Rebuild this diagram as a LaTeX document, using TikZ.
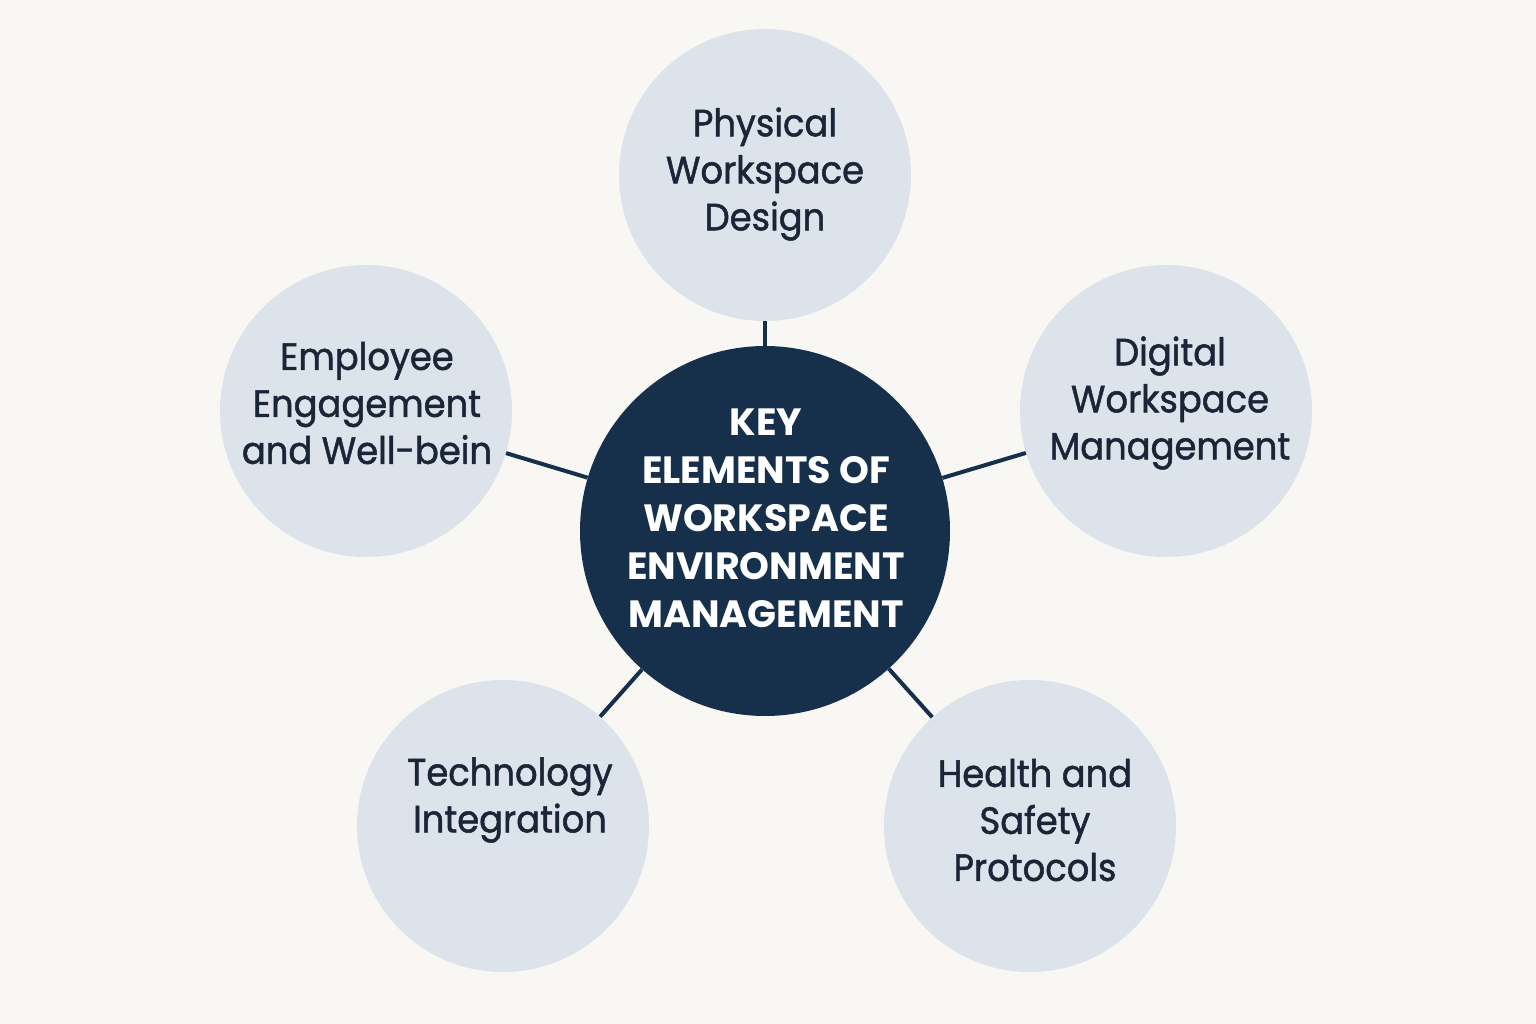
\documentclass[tikz,border=0pt]{standalone}
\usepackage{fontspec}
\setmainfont{Poppins}
\newfontfamily\petalfont[FakeStretch=0.93,FakeBold=1.3]{Poppins}
\definecolor{bgc}{HTML}{F8F7F3}
\definecolor{navy}{HTML}{16304C}
\definecolor{pale}{HTML}{DDE3EA}
\definecolor{ink}{HTML}{1A2638}
\begin{document}
\begin{tikzpicture}[x=0.75pt,y=-0.75pt,
  hub/.style={circle,fill=navy,minimum size=370*0.75pt,inner sep=0pt},
  petal/.style={circle,fill=pale,minimum size=292*0.75pt,inner sep=0pt},
  petaltext/.style={text=ink,align=center,font=\petalfont\fontsize{28.5}{35.25}\selectfont},
  hubtext/.style={text=white,align=center,font=\fontsize{28.5}{36}\selectfont\bfseries},
  link/.style={draw=navy,line width=3pt}]
\fill[bgc] (0,0) rectangle (1536,1024);
\useasboundingbox (0,0) rectangle (1536,1024);
\node[hub] (main) at (765,531) {};
\node[petal] (phys) at (765,175) {};
\node[petal] (digi) at (1166,411) {};
\node[petal] (empl) at (366,411) {};
\node[petal] (tech) at (503,826) {};
\node[petal] (heal) at (1030,826) {};
\draw[link] (phys) -- (main);
\draw[link] (digi) -- (main);
\draw[link] (empl) -- (main);
\draw[link] (tech) -- (main);
\draw[link] (heal) -- (main);
\node[hubtext] (maint) at (766,518) {KEY\\ELEMENTS OF\\WORKSPACE\\ENVIRONMENT\\MANAGEMENT};
\node[petaltext] (physt) at (765,174) {Physical\\Workspace\\Design};
\node[petaltext] (digit) at (1170,403) {Digital\\Workspace\\Management};
\node[petaltext] (emplt) at (367,403) {Employee\\Engagement\\and Well-bein};
\node[petaltext] (techt) at (510,800) {Technology\\Integration};
\node[petaltext] (healt) at (1035,820) {Health and\\Safety\\Protocols};
\end{tikzpicture}
\end{document}
